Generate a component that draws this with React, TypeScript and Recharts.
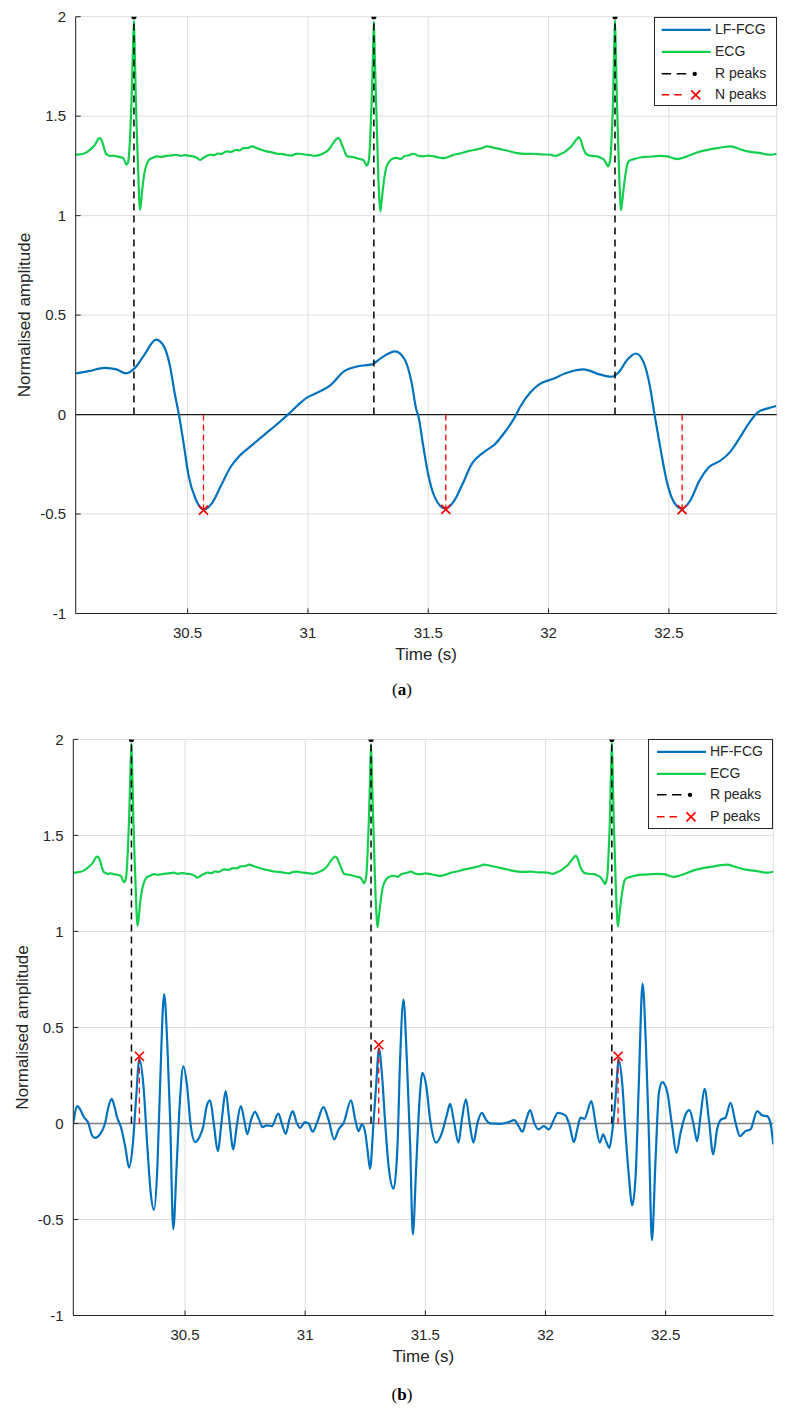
import React from 'react';
import { ComposedChart, Line, Scatter, XAxis, YAxis, CartesianGrid, ReferenceLine, Legend, Label } from 'recharts';

const FONT = '"Liberation Sans", Arial, Helvetica, sans-serif';
const INK = '#262626';
const BLUE = '#0072BD';
const GREEN = '#14CF4E';
const RED = '#FF0000';
const GRID = '#dedede';

// axes
const timeTicks = [30.5, 31, 31.5, 32, 32.5];
const ampTicks = [-1, -0.5, 0, 0.5, 1, 1.5, 2];
const timeDomain: [number, number] = [30.035, 32.948];
const ampDomain: [number, number] = [-1, 2];

// ECG (shared by both panels)
const ecgTime = [
  30.035, 30.050, 30.066, 30.080, 30.094, 30.115, 30.133, 30.140, 30.147, 30.155,
  30.161, 30.170, 30.177, 30.190, 30.205, 30.220, 30.233, 30.240, 30.246, 30.252,
  30.256, 30.262, 30.267, 30.272, 30.277, 30.281, 30.285, 30.290, 30.295, 30.299,
  30.302, 30.306, 30.313, 30.320, 30.327, 30.335, 30.343, 30.355, 30.371, 30.390,
  30.410, 30.430, 30.454, 30.470, 30.490, 30.510, 30.524, 30.540, 30.551, 30.565,
  30.580, 30.593, 30.610, 30.625, 30.640, 30.662, 30.680, 30.700, 30.715, 30.731,
  30.750, 30.766, 30.790, 30.810, 30.828, 30.850, 30.870, 30.890, 30.911, 30.930,
  30.950, 30.967, 30.990, 31.010, 31.030, 31.050, 31.065, 31.078, 31.092, 31.105,
  31.118, 31.126, 31.134, 31.140, 31.147, 31.155, 31.161, 31.175, 31.190, 31.202,
  31.218, 31.230, 31.238, 31.244, 31.250, 31.255, 31.260, 31.265, 31.270, 31.274,
  31.278, 31.283, 31.288, 31.292, 31.297, 31.301, 31.305, 31.313, 31.320, 31.327,
  31.337, 31.348, 31.369, 31.385, 31.400, 31.420, 31.440, 31.460, 31.480, 31.500,
  31.524, 31.545, 31.565, 31.585, 31.607, 31.630, 31.662, 31.690, 31.720, 31.745,
  31.770, 31.800, 31.830, 31.870, 31.900, 31.939, 31.970, 32.008, 32.030, 32.050,
  32.065, 32.078, 32.092, 32.105, 32.118, 32.126, 32.134, 32.144, 32.152, 32.161,
  32.180, 32.202, 32.218, 32.230, 32.240, 32.247, 32.253, 32.258, 32.263, 32.268,
  32.272, 32.276, 32.280, 32.284, 32.289, 32.293, 32.298, 32.301, 32.305, 32.313,
  32.320, 32.330, 32.342, 32.355, 32.380, 32.410, 32.438, 32.465, 32.493, 32.515,
  32.535, 32.555, 32.576, 32.600, 32.632, 32.665, 32.701, 32.730, 32.756, 32.790,
  32.826, 32.855, 32.881, 32.905, 32.923, 32.948,
];
const ecgAmp = [
  1.306, 1.308, 1.311, 1.318, 1.331, 1.356, 1.390, 1.385, 1.365, 1.330,
  1.311, 1.304, 1.300, 1.302, 1.298, 1.294, 1.289, 1.270, 1.256, 1.265,
  1.298, 1.420, 1.580, 1.800, 1.980, 1.800, 1.580, 1.380, 1.214, 1.080,
  1.030, 1.060, 1.147, 1.210, 1.247, 1.272, 1.284, 1.290, 1.298, 1.295,
  1.300, 1.302, 1.306, 1.300, 1.304, 1.300, 1.298, 1.290, 1.280, 1.290,
  1.300, 1.306, 1.304, 1.312, 1.310, 1.323, 1.320, 1.330, 1.328, 1.339,
  1.340, 1.348, 1.338, 1.330, 1.323, 1.318, 1.312, 1.310, 1.306, 1.302,
  1.310, 1.311, 1.306, 1.304, 1.300, 1.306, 1.314, 1.323, 1.340, 1.365,
  1.385, 1.390, 1.380, 1.360, 1.340, 1.315, 1.300, 1.296, 1.294, 1.289,
  1.284, 1.280, 1.265, 1.251, 1.262, 1.298, 1.420, 1.580, 1.800, 1.975,
  1.800, 1.580, 1.380, 1.214, 1.080, 1.022, 1.060, 1.147, 1.210, 1.247,
  1.270, 1.284, 1.290, 1.284, 1.298, 1.304, 1.311, 1.300, 1.298, 1.302,
  1.298, 1.292, 1.289, 1.296, 1.306, 1.312, 1.323, 1.330, 1.338, 1.348,
  1.342, 1.334, 1.326, 1.314, 1.310, 1.311, 1.308, 1.306, 1.300, 1.310,
  1.318, 1.331, 1.345, 1.365, 1.385, 1.395, 1.380, 1.339, 1.318, 1.306,
  1.300, 1.298, 1.290, 1.281, 1.262, 1.247, 1.262, 1.298, 1.420, 1.582,
  1.800, 1.983, 1.800, 1.580, 1.380, 1.214, 1.080, 1.027, 1.060, 1.147,
  1.210, 1.268, 1.280, 1.284, 1.292, 1.296, 1.298, 1.300, 1.298, 1.290,
  1.284, 1.290, 1.298, 1.310, 1.323, 1.332, 1.339, 1.345, 1.348, 1.336,
  1.323, 1.318, 1.314, 1.308, 1.306, 1.311,
];

// LF-FCG (panel a)
const lfTime = [
  30.037, 30.089, 30.156, 30.205, 30.243, 30.282, 30.320, 30.369, 30.398, 30.427,
  30.446, 30.465, 30.485, 30.504, 30.533, 30.568, 30.600, 30.639, 30.678, 30.716,
  30.764, 30.822, 30.880, 30.919, 30.958, 30.996, 31.044, 31.093, 31.151, 31.208,
  31.266, 31.305, 31.363, 31.402, 31.431, 31.450, 31.459, 31.479, 31.498, 31.527,
  31.571, 31.604, 31.643, 31.681, 31.730, 31.778, 31.817, 31.855, 31.884, 31.923,
  31.961, 32.019, 32.077, 32.145, 32.212, 32.261, 32.290, 32.328, 32.363, 32.396,
  32.421, 32.440, 32.463, 32.492, 32.521, 32.554, 32.589, 32.627, 32.666, 32.714,
  32.753, 32.791, 32.830, 32.868, 32.907, 32.946,
];
const lfAmp = [
  0.207, 0.218, 0.235, 0.227, 0.207, 0.235, 0.300, 0.377, 0.350, 0.243,
  0.110, -0.007, -0.157, -0.307, -0.423, -0.478, -0.448, -0.357, -0.265, -0.207,
  -0.157, -0.098, -0.040, 0.002, 0.047, 0.085, 0.113, 0.147, 0.218, 0.243,
  0.252, 0.285, 0.318, 0.277, 0.160, 0.027, -0.007, -0.157, -0.290, -0.415,
  -0.473, -0.440, -0.348, -0.248, -0.190, -0.148, -0.090, -0.023, 0.043, 0.110,
  0.152, 0.180, 0.210, 0.227, 0.202, 0.190, 0.210, 0.277, 0.307, 0.260,
  0.143, 0.002, -0.157, -0.340, -0.440, -0.473, -0.432, -0.332, -0.265, -0.232,
  -0.190, -0.123, -0.048, 0.010, 0.030, 0.043,
];

// HF-FCG (panel b)
const hfTime = [
  30.035, 30.052, 30.065, 30.077, 30.098, 30.112, 30.125, 30.146, 30.167, 30.182,
  30.195, 30.206, 30.216, 30.236, 30.253, 30.267, 30.282, 30.296, 30.310, 30.327,
  30.343, 30.357, 30.371, 30.385, 30.396, 30.413, 30.426, 30.438, 30.451, 30.465,
  30.479, 30.493, 30.507, 30.524, 30.542, 30.562, 30.576, 30.590, 30.604, 30.621,
  30.636, 30.653, 30.669, 30.684, 30.701, 30.715, 30.732, 30.746, 30.759, 30.775,
  30.791, 30.808, 30.822, 30.840, 30.861, 30.888, 30.902, 30.919, 30.934, 30.948,
  30.965, 30.979, 30.999, 31.014, 31.031, 31.049, 31.076, 31.097, 31.121, 31.139,
  31.160, 31.191, 31.208, 31.222, 31.236, 31.250, 31.259, 31.270, 31.284, 31.295,
  31.307, 31.319, 31.333, 31.347, 31.368, 31.384, 31.395, 31.409, 31.423, 31.437,
  31.448, 31.462, 31.476, 31.488, 31.504, 31.520, 31.545, 31.569, 31.590, 31.603,
  31.620, 31.638, 31.652, 31.669, 31.684, 31.700, 31.717, 31.735, 31.752, 31.770,
  31.811, 31.846, 31.870, 31.888, 31.904, 31.920, 31.936, 31.953, 31.971, 31.993,
  32.014, 32.035, 32.051, 32.083, 32.101, 32.118, 32.132, 32.146, 32.162, 32.191,
  32.208, 32.226, 32.240, 32.252, 32.266, 32.277, 32.291, 32.305, 32.319, 32.333,
  32.347, 32.361, 32.375, 32.388, 32.404, 32.418, 32.430, 32.443, 32.458, 32.472,
  32.486, 32.506, 32.527, 32.545, 32.562, 32.583, 32.599, 32.615, 32.631, 32.645,
  32.662, 32.680, 32.698, 32.714, 32.731, 32.749, 32.770, 32.791, 32.809, 32.832,
  32.853, 32.881, 32.902, 32.922, 32.936, 32.948,
];
const hfAmp = [
  0.003, 0.090, 0.070, 0.038, 0.000, -0.060, -0.075, -0.057, 0.000, 0.090,
  0.128, 0.090, 0.038, -0.031, -0.135, -0.230, -0.118, 0.125, 0.336, 0.194,
  -0.118, -0.360, -0.450, -0.222, 0.194, 0.674, 0.420, 0.020, -0.551, -0.222,
  0.125, 0.298, 0.211, -0.014, -0.097, -0.065, -0.014, 0.090, 0.120, -0.014,
  -0.144, 0.020, 0.168, 0.020, -0.135, -0.014, 0.090, 0.020, -0.057, 0.020,
  0.060, 0.020, -0.019, -0.010, -0.014, 0.052, 0.003, -0.054, 0.020, 0.064,
  0.003, -0.023, 0.007, 0.000, -0.043, 0.003, 0.085, 0.020, -0.083, -0.031,
  0.003, 0.121, 0.020, -0.040, -0.005, -0.049, -0.135, -0.236, 0.000, 0.194,
  0.390, 0.263, 0.000, -0.222, -0.340, -0.118, 0.333, 0.645, 0.333, -0.118,
  -0.577, -0.222, 0.125, 0.263, 0.194, 0.020, -0.100, -0.049, 0.047, 0.102,
  0.003, -0.100, 0.020, 0.125, 0.003, -0.100, 0.003, 0.055, 0.020, 0.000,
  -0.002, 0.007, 0.017, -0.014, -0.043, 0.020, 0.069, 0.003, -0.031, -0.014,
  -0.031, 0.021, 0.055, 0.042, -0.014, -0.097, -0.031, 0.030, 0.024, 0.116,
  0.003, -0.100, -0.057, -0.092, -0.127, -0.049, 0.125, 0.333, 0.211, -0.049,
  -0.274, -0.426, -0.274, 0.194, 0.728, 0.402, -0.049, -0.608, -0.187, 0.159,
  0.215, 0.168, -0.014, -0.153, -0.049, 0.047, 0.069, 0.003, -0.092, 0.038,
  0.180, 0.020, -0.161, -0.031, 0.021, 0.030, 0.107, 0.003, -0.066, -0.040,
  -0.031, 0.064, 0.042, 0.038, 0.003, -0.109,
];

// detected peaks
const rPeakTime = [30.277, 31.274, 32.276];
const nPeakTime = [30.566, 31.573, 32.555];
const nPeakAmp = [-0.48, -0.477, -0.478];
const pPeakTime = [30.31, 31.306, 32.302];
const pPeakAmp = [0.35, 0.41, 0.35];

type Pt = { t: number; v: number | null };
const zip = (ts: number[], vs: number[]): Pt[] => ts.map((t, i) => ({ t, v: vs[i] }));
// vertical stems from zero to each peak, split by null gaps
const stems = (ts: number[], vs: number[]): Pt[] =>
  ts.flatMap((t, i) => [{ t, v: 0 }, { t, v: vs[i] }, { t, v: null }]);

const CrossMark = (props: any) => {
  const { cx, cy } = props;
  if (cx == null || cy == null) return null;
  const s = 4.5;
  return (
    <path
      d={`M${cx - s},${cy - s}L${cx + s},${cy + s}M${cx - s},${cy + s}L${cx + s},${cy - s}`}
      stroke={RED}
      strokeWidth={1.7}
      fill="none"
    />
  );
};

const DotMark = (props: any) => {
  const { cx, cy } = props;
  if (cx == null || cy == null) return null;
  return <circle cx={cx} cy={cy} r={2.6} fill="#000" />;
};

const XTitle = (props: any) => {
  const { x, y, width } = props.viewBox;
  return (
    <text x={x + width / 2} y={y + 46.5} textAnchor="middle" fill={INK} fontSize={17} fontFamily={FONT}>
      Time (s)
    </text>
  );
};

const YTitle = (props: any) => {
  const { x, y, width, height } = props.viewBox;
  const bx = x + width - 45.7;
  const cy = y + height / 2;
  return (
    <text
      x={bx}
      y={cy}
      transform={`rotate(-90, ${bx}, ${cy})`}
      textAnchor="middle"
      fill={INK}
      fontSize={17}
      fontFamily={FONT}
    >
      Normalised amplitude
    </text>
  );
};

type LegendItem = { label: string; kind: 'blue' | 'green' | 'r' | 'peak' };

function LegendBox({ items, width, pad, sampleFrom, textLeft }: {
  items: LegendItem[]; width: number; pad: number; sampleFrom: number; textLeft: number;
}) {
  const rowH = 21.7;
  const mid = rowH / 2;
  return (
    <div
      style={{
        width,
        height: 89.3,
        boxSizing: 'border-box',
        border: `1px solid ${INK}`,
        background: '#fff',
        paddingTop: pad,
        fontFamily: FONT,
        fontSize: 14,
        color: INK,
      }}
    >
      {items.map((it) => (
        <div key={it.label} style={{ position: 'relative', height: rowH }}>
          <svg width={textLeft} height={rowH} style={{ position: 'absolute', left: 0, top: 0 }}>
            {it.kind === 'blue' && (
              <line x1={sampleFrom} x2={sampleFrom + 49} y1={mid} y2={mid} stroke={BLUE} strokeWidth={2.2} />
            )}
            {it.kind === 'green' && (
              <line x1={sampleFrom} x2={sampleFrom + 49} y1={mid} y2={mid} stroke={GREEN} strokeWidth={2.2} />
            )}
            {it.kind === 'r' && (
              <g>
                <line x1={sampleFrom} x2={sampleFrom + 25} y1={mid} y2={mid} stroke="#000" strokeWidth={1.5} strokeDasharray="9.5 5.5" />
                <circle cx={sampleFrom + 33} cy={mid} r={2.2} fill="#000" />
              </g>
            )}
            {it.kind === 'peak' && (
              <g>
                <line x1={sampleFrom} x2={sampleFrom + 24} y1={mid} y2={mid} stroke={RED} strokeWidth={1.5} strokeDasharray="7.5 5" />
                <CrossMark cx={sampleFrom + 34} cy={mid} />
              </g>
            )}
          </svg>
          <span style={{ position: 'absolute', left: textLeft, top: 0, lineHeight: `${rowH}px`, whiteSpace: 'nowrap' }}>
            {it.label}
          </span>
        </div>
      ))}
    </div>
  );
}

type PanelProps = {
  fcgName: string;
  fcgTime: number[];
  fcgAmp: number[];
  peakName: string;
  peakTime: number[];
  peakAmp: number[];
  margin: { top: number; right: number; bottom: number; left: number };
  legend: { left: number; top: number; width: number; pad: number; sampleFrom: number; textLeft: number };
  zeroStroke: string;
  zeroWidth: number;
};

function FcgPanel(p: PanelProps) {
  const rTop = rPeakTime.map(() => ampDomain[1]);
  const tickStyle = { fill: INK, fontSize: 15, fontFamily: FONT };
  const items: LegendItem[] = [
    { label: p.fcgName, kind: 'blue' },
    { label: 'ECG', kind: 'green' },
    { label: 'R peaks', kind: 'r' },
    { label: p.peakName, kind: 'peak' },
  ];
  return (
    <ComposedChart width={790} height={680} margin={p.margin}>
      <CartesianGrid stroke={GRID} strokeWidth={1} />
      <XAxis
        type="number"
        dataKey="t"
        domain={timeDomain}
        ticks={timeTicks}
        allowDataOverflow
        height={50}
        tickSize={-5}
        tickMargin={19}
        stroke={INK}
        tick={tickStyle}
      >
        <Label content={XTitle} />
      </XAxis>
      <XAxis
        xAxisId="top"
        orientation="top"
        type="number"
        dataKey="t"
        domain={timeDomain}
        ticks={timeTicks}
        allowDataOverflow
        height={0}
        tickSize={-5}
        tick={false}
        stroke={INK}
      />
      <YAxis
        type="number"
        domain={ampDomain}
        ticks={ampTicks}
        allowDataOverflow
        width={60}
        tickSize={-5}
        tickMargin={14.7}
        stroke={INK}
        tick={tickStyle}
      >
        <Label content={YTitle} />
      </YAxis>
      <YAxis
        yAxisId="right"
        orientation="right"
        type="number"
        domain={ampDomain}
        ticks={ampTicks}
        allowDataOverflow
        width={0}
        tickSize={-5}
        tick={false}
        stroke={INK}
      />
      <ReferenceLine y={0} stroke={p.zeroStroke} strokeWidth={p.zeroWidth} />
      <Line
        data={zip(p.fcgTime, p.fcgAmp)}
        dataKey="v"
        type="monotone"
        stroke={BLUE}
        strokeWidth={2.2}
        dot={false}
        isAnimationActive={false}
      />
      <Line
        data={zip(ecgTime, ecgAmp)}
        dataKey="v"
        type="monotone"
        stroke={GREEN}
        strokeWidth={2.2}
        dot={false}
        isAnimationActive={false}
      />
      <Line
        data={stems(rPeakTime, rTop)}
        dataKey="v"
        type="linear"
        stroke="#000"
        strokeWidth={1.5}
        strokeDasharray="7 5"
        dot={false}
        isAnimationActive={false}
      />
      <Scatter data={zip(rPeakTime, rTop)} dataKey="v" shape={DotMark} isAnimationActive={false} />
      <Line
        data={stems(p.peakTime, p.peakAmp)}
        dataKey="v"
        type="linear"
        stroke={RED}
        strokeWidth={1.3}
        strokeDasharray="6 4"
        dot={false}
        isAnimationActive={false}
      />
      <Scatter data={zip(p.peakTime, p.peakAmp)} dataKey="v" shape={CrossMark} isAnimationActive={false} />
      <Legend
        layout="vertical"
        align="center"
        verticalAlign="middle"
        wrapperStyle={{ left: p.legend.left, top: p.legend.top, width: p.legend.width, height: 89.3 }}
        content={() => (
          <LegendBox
            items={items}
            width={p.legend.width}
            pad={p.legend.pad}
            sampleFrom={p.legend.sampleFrom}
            textLeft={p.legend.textLeft}
          />
        )}
      />
    </ComposedChart>
  );
}

const captionStyle: React.CSSProperties = {
  position: 'absolute',
  left: 352,
  width: 100,
  textAlign: 'center',
  fontFamily: '"Liberation Serif", "Times New Roman", serif',
  fontSize: 17,
  lineHeight: '20px',
  color: '#000',
};

export default function App() {
  return (
    <div style={{ position: 'absolute', left: 0, top: 0, width: 790, height: 1414, background: '#fff' }}>
      <div style={{ position: 'absolute', left: 0, top: 0 }}>
        <FcgPanel
          fcgName="LF-FCG"
          fcgTime={lfTime}
          fcgAmp={lfAmp}
          peakName="N peaks"
          peakTime={nPeakTime}
          peakAmp={nPeakAmp}
          margin={{ top: 16.7, right: 13.3, bottom: 16.5, left: 15.7 }}
          legend={{ left: 654.3, top: 16.7, width: 122.4, pad: 1.5, sampleFrom: 6.7, textLeft: 59.7 }}
          zeroStroke="#1a1a1a"
          zeroWidth={1.2}
        />
      </div>
      <div style={{ ...captionStyle, top: 680 }}>
        (<b>a</b>)
      </div>
      <div style={{ position: 'absolute', left: 0, top: 700 }}>
        <FcgPanel
          fcgName="HF-FCG"
          fcgTime={hfTime}
          fcgAmp={hfAmp}
          peakName="P peaks"
          peakTime={pPeakTime}
          peakAmp={pPeakAmp}
          margin={{ top: 39.4, right: 16.7, bottom: 14.5, left: 13.3 }}
          legend={{ left: 648, top: 39.3, width: 125.3, pad: 0.6, sampleFrom: 8, textLeft: 61 }}
          zeroStroke="#7f7f7f"
          zeroWidth={1.6}
        />
      </div>
      <div style={{ ...captionStyle, top: 1385 }}>
        (<b>b</b>)
      </div>
    </div>
  );
}
